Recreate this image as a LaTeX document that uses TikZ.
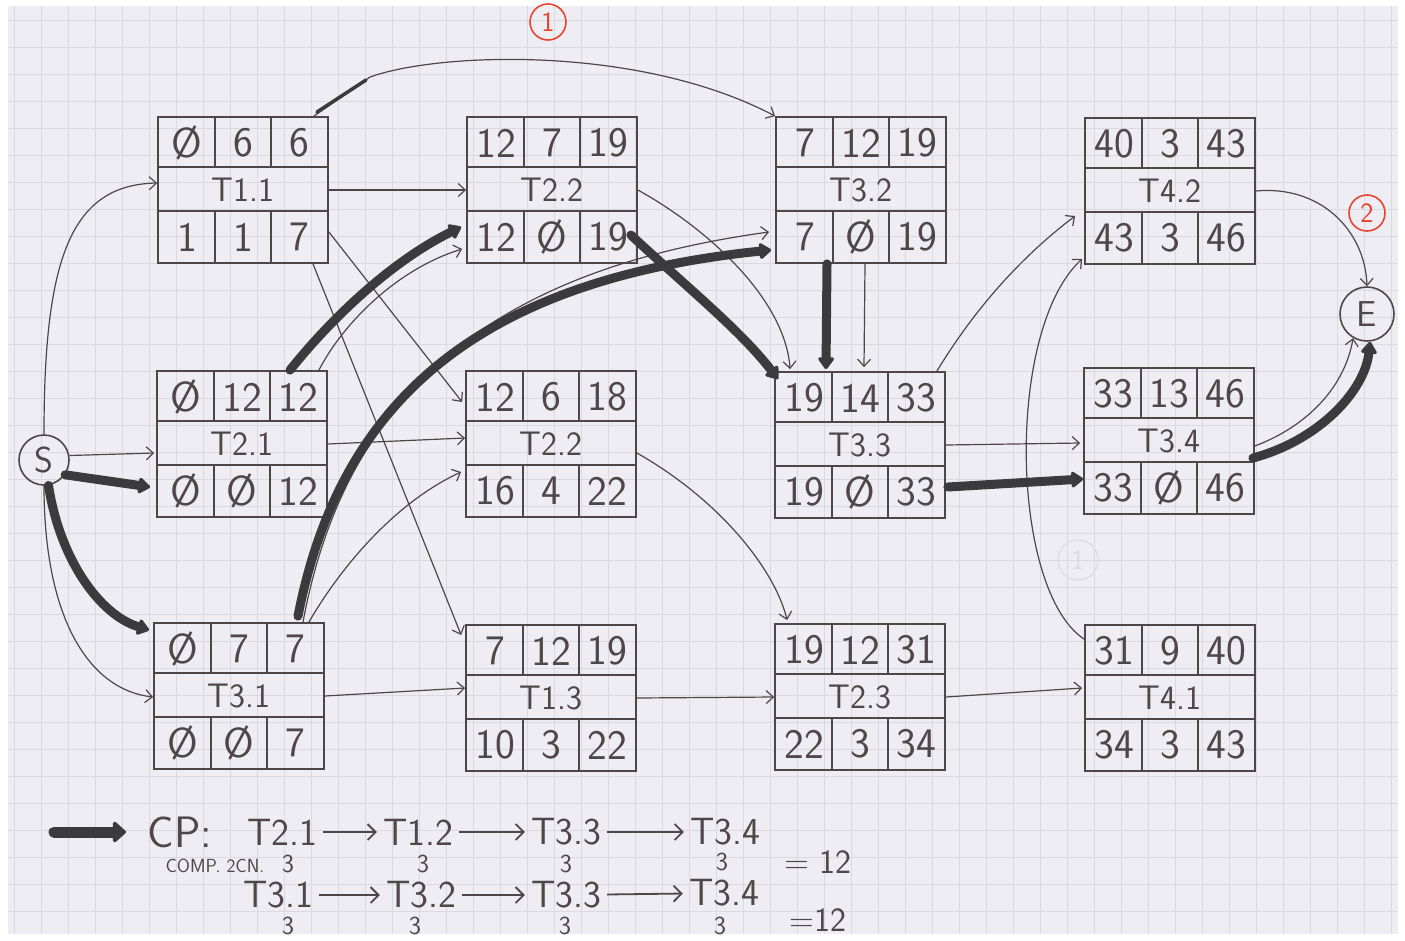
\documentclass[tikz,border=0pt]{standalone}
\usepackage{fontspec}
\usetikzlibrary{calc,arrows.meta}
\definecolor{paper}{HTML}{EEEDF3}
\definecolor{gridc}{HTML}{DAD9E1}
\definecolor{ink}{HTML}{4E4749}
\definecolor{heavy}{HTML}{3B3B3E}
\definecolor{redink}{HTML}{E8452F}
\definecolor{ghost}{HTML}{DCDBE3}
\tikzset{
  tbox/.style={draw=ink, line width=1.8pt, minimum width=170pt, minimum height=146pt, inner sep=0pt},
  rule/.style={draw=ink, line width=1.8pt},
  thin/.style={draw=ink, line width=1.2pt, -{Straight Barb[length=7pt,width=13pt]}},
  crit/.style={draw=heavy, line width=9pt, line cap=round, -{Triangle[length=13pt,width=18pt,round]}},
  num/.style={text=ink, font=\sffamily\fontsize{42}{46}\selectfont, inner sep=0pt},
  lab/.style={text=ink, font=\sffamily\fontsize{34}{38}\selectfont, inner sep=0pt},
  term/.style={circle, draw=ink, line width=1.6pt, text=ink, font=\sffamily\fontsize{36}{40}\selectfont, inner sep=0pt},
  redc/.style={circle, draw=redink, line width=1.6pt, text=redink, font=\sffamily\fontsize{28}{30}\selectfont, minimum size=36pt, inner sep=0pt},
  big/.style={text=ink, font=\sffamily\fontsize{38}{42}\selectfont, inner sep=1pt},
  cpstyle/.style={text=ink, font=\sffamily\fontsize{44}{48}\selectfont, inner sep=1pt},
  small/.style={text=ink, font=\sffamily\fontsize{26}{28}\selectfont, inner sep=0pt},
  tiny/.style={text=ink, font=\sffamily\fontsize{19}{21}\selectfont, inner sep=0pt},
  mid/.style={text=ink, font=\sffamily\fontsize{34}{38}\selectfont, inner sep=0pt},
  txtarrow/.style={draw=ink, line width=1.8pt, -{Straight Barb[length=8pt,width=16pt]}, shorten <=5pt, shorten >=5pt},
}
\newcommand\taskbox[9]{%
  \node[tbox] (#1) at (#2) {};
  \begin{scope}[shift={(#2)}]
    \draw[rule] (-85,-23) -- (85,-23) (-85,21) -- (85,21)
      (-28,-73) -- (-28,-23) (28,-73) -- (28,-23)
      (-28,21) -- (-28,73) (28,21) -- (28,73);
    \node[num] (#1-a) at (-56,-47) {#4};
    \node[num] (#1-b) at (0,-47) {#5};
    \node[num] (#1-c) at (56,-47) {#6};
    \node[lab] (#1-l) at (0,0) {#3};
    \node[num] (#1-d) at (-56,47) {#7};
    \node[num] (#1-e) at (0,47) {#8};
    \node[num] (#1-f) at (56,47) {#9};
  \end{scope}}
\begin{document}
\begin{tikzpicture}[x=1pt,y=-1pt]
\useasboundingbox (0,0) rectangle (1405,940);
\fill[white] (0,0) rectangle (1405,940);
\fill[paper] (8,6) rectangle (1398,934);
\foreach \x in {14,41,...,1398} \draw[gridc, line width=0.8pt] (\x,6) -- (\x,934);
\foreach \y in {20,47,...,934} \draw[gridc, line width=0.8pt] (8,\y) -- (1398,\y);

% boxes
\taskbox{T11}{243,190}{T1.1}{Ø}{6}{6}{1}{1}{7}
\taskbox{T12}{552,190}{T2.2}{12}{7}{19}{12}{Ø}{19}
\taskbox{T32}{861,190}{T3.2}{7}{12}{19}{7}{Ø}{19}
\taskbox{T42}{1170,191}{T4.2}{40}{3}{43}{43}{3}{46}
\taskbox{T21}{242,444}{T2.1}{Ø}{12}{12}{Ø}{Ø}{12}
\taskbox{T22}{551,444}{T2.2}{12}{6}{18}{16}{4}{22}
\taskbox{T33}{860,445}{T3.3}{19}{14}{33}{19}{Ø}{33}
\taskbox{T34}{1169,441}{T3.4}{33}{13}{46}{33}{Ø}{46}
\taskbox{T31}{239,696}{T3.1}{Ø}{7}{7}{Ø}{Ø}{7}
\taskbox{T13}{551,698}{T1.3}{7}{12}{19}{10}{3}{22}
\taskbox{T23}{860,697}{T2.3}{19}{12}{31}{22}{3}{34}
\taskbox{T41}{1170,698}{T4.1}{31}{9}{40}{34}{3}{43}

% terminals and marks
\node[term, minimum size=50pt] (S) at (44,460) {S};
\node[term, minimum size=54pt] (E) at (1367,314) {E};
\node[redc] (m1) at (548,22) {1};
\node[redc] (m2) at (1367,213) {2};
\node[circle, draw=ghost, line width=1.2pt, text=ghost, font=\sffamily\fontsize{28}{30}\selectfont, minimum size=40pt, inner sep=0pt] (g1) at (1078,560) {1};

% thin connectors
\draw[thin] (S.north) .. controls (44,260) and (70,185) .. ($(T11.west)+(0,-7)$);
\draw[thin] (S.10) -- ($(T21.west)+(-2,9)$);
\draw[thin] (S.south) .. controls (44,620) and (90,690) .. ($(T31.west)+(0,1)$);
\draw[thin] (T11.east) -- (T12.west);
\draw[thin] ($(T11.north east)+(-15,0)$) -- (370,77) .. controls (440,52) and (640,45) .. (T32.north west);
\draw[draw=heavy, line width=3.5pt, line cap=round] ($(T11.north east)+(-12,-4)$) -- (366,80);
\draw[thin] ($(T11.east)+(0,42)$) -- ($(T22.west)+(-3,-42)$);
\draw[thin] ($(T11.south)+(70,0)$) -- ($(T13.west)+(-4,-63)$);
\draw[thin] ($(T21.north east)+(-9,0)$) .. controls (345,320) and (400,268) .. ($(T12.west)+(-4,59)$);
\draw[thin] (T21.east) -- ($(T22.west)+(0,-6)$);
\draw[thin] ($(T31.north)+(64,0)$) .. controls (345,395) and (490,270) .. ($(T32.west)+(-6,42)$);
\draw[thin] ($(T31.north east)+(-16,0)$) .. controls (345,560) and (400,500) .. ($(T22.west)+(-4,28)$);
\draw[thin] (T31.east) -- ($(T13.west)+(0,-10)$);
\draw[thin] (T12.east) .. controls (710,230) and (785,300) .. ($(T33.north west)+(16,-2)$);
\draw[thin] ($(T22.east)+(0,9)$) .. controls (720,500) and (775,570) .. ($(T23.north west)+(13,-3)$);
\draw[thin] ($(T32.south)+(4,0)$) -- ($(T33.north)+(4,-4)$);
\draw[thin] ($(T33.north east)+(-9,0)$) .. controls (980,300) and (1030,250) .. ($(T42.west)+(-9,25)$);
\draw[thin] (T33.east) -- ($(T34.west)+(-3,2)$);
\draw[thin] (T13.east) -- (T23.west);
\draw[thin] (T23.east) -- ($(T41.west)+(-2,-10)$);
\draw[thin] ($(T41.north west)+(0,15)$) .. controls (1010,590) and (1005,330) .. ($(T42.south west)+(-2,-6)$);
\draw[thin] (T42.east) .. controls (1320,185) and (1365,230) .. (E.north);
\draw[thin] ($(T34.east)+(0,5)$) .. controls (1310,425) and (1345,385) .. (E.240);

% critical path
\draw[crit] (S.-35) -- ($(T21.west)+(-6,43)$);
\draw[crit] (S.-80) .. controls (60,560) and (100,615) .. ($(T31.north west)+(-4,8)$);
\draw[crit] ($(T21.north)+(48,0)$) .. controls (330,320) and (390,262) .. ($(T12.west)+(-5,37)$);
\draw[crit] ($(T31.north)+(59,-6)$) .. controls (340,400) and (480,280) .. ($(T32.west)+(-4,60)$);
\draw[crit] ($(T12.east)+(-7,45)$) .. controls (690,290) and (740,330) .. ($(T33.north west)+(4,8)$);
\draw[crit] ($(T32.south)+(-34,0)$) -- ($(T33.north)+(-34,-2)$);
\draw[crit] ($(T33.east)+(2,42)$) -- ($(T34.west)+(0,38)$);
\draw[crit] ($(T34.east)+(-2,17)$) .. controls (1320,440) and (1365,390) .. ($(E.south)+(3,0)$);

% critical path notes
\coordinate (ba1) at (54,832);
\coordinate (ba2) at (126,832);
\draw[draw=heavy, line width=11pt, line cap=round, -{Triangle[length=14pt,width=24pt,round]}] (ba1) -- (ba2);
\node[cpstyle] (cp) at (180,832) {CP:};
\node[big] (r1a) at (282,832) {T2.1};
\node[big] (r1b) at (418,832) {T1.2};
\node[big] (r1c) at (566,832) {T3.3};
\node[big] (r1d) at (725,832) {T3.4};
\draw[txtarrow] (r1a) -- (r1b);
\draw[txtarrow] (r1b) -- (r1c);
\draw[txtarrow] (r1c) -- (r1d);
\node[tiny] (comp) at (215,866) {COMP. 2CN.};
\node[small] (w1) at (288,864) {3};
\node[small] (w2) at (423,864) {3};
\node[small] (w3) at (566,864) {3};
\node[small] (w4) at (722,862) {3};
\node[mid] (s1) at (818,862) {= 12};
\node[big] (r2a) at (278,895) {T3.1};
\node[big] (r2b) at (421,895) {T3.2};
\node[big] (r2c) at (566,895) {T3.3};
\node[big] (r2d) at (724,893) {T3.4};
\draw[txtarrow] (r2a) -- (r2b);
\draw[txtarrow] (r2b) -- (r2c);
\draw[txtarrow] (r2c) -- (r2d);
\node[small] (v1) at (288,926) {3};
\node[small] (v2) at (415,926) {3};
\node[small] (v3) at (565,926) {3};
\node[small] (v4) at (720,926) {3};
\node[mid] (s2) at (818,920) {=12};
\end{tikzpicture}
\end{document}
